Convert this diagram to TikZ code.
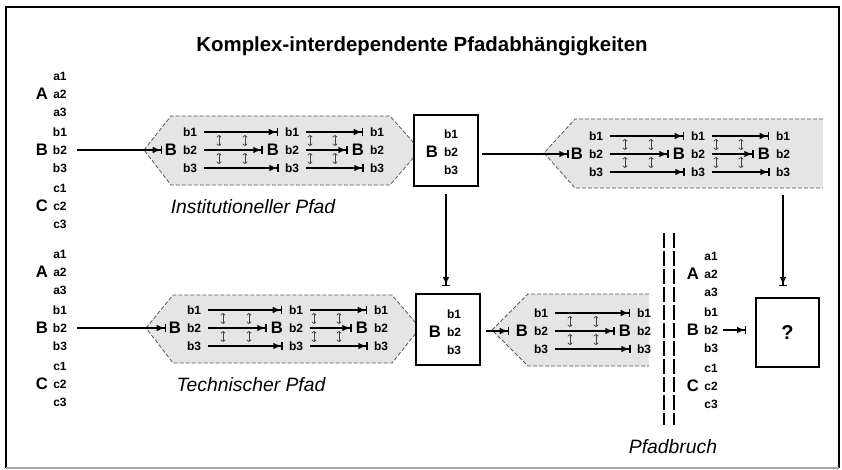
\documentclass[tikz,border=0pt]{standalone}
\usepackage{fontspec}
\setmainfont{Liberation Sans}
\usetikzlibrary{arrows.meta}

\tikzset{
  titel/.style={font=\bfseries\fontsize{15.3}{18}\selectfont},
  gross/.style={inner sep=0pt, font=\bfseries\fontsize{12.5}{13}\selectfont},
  klein/.style={inner sep=0pt, font=\bfseries\fontsize{9}{10}\selectfont},
  pfadname/.style={inner sep=0pt, font=\itshape\fontsize{14.5}{16}\selectfont},
  pfeil/.style={line width=1.2pt, -{Latex[length=6pt,width=5pt]Bar[width=6pt,line width=1pt]}},
  wechsel/.style={line width=0.55pt, draw=black!75, {To[length=1.8pt,width=3.6pt]}-{To[length=1.8pt,width=3.6pt]}},
  pfadflaeche/.style={fill=black!10},
  pfadrand/.style={draw=black!65, dash pattern=on 3pt off 1.5pt, line width=0.6pt},
  kasten/.style={draw, fill=white, line width=1.4pt, minimum width=48pt, minimum height=53.25pt},
  bruch/.style={line width=1.5pt, dash pattern=on 11pt off 2.5pt}
}

\newcommand{\gruppe}[5]{%
  \node[gross] (#1) at (#4,#5) {#2};
  \foreach \i/\dy in {1/-18,2/0,3/18}
    \node[klein] (#1-\i) at (#4+18,#5+\dy) {#3\i};
}
\newcommand{\abc}[3]{%
  \gruppe{#1a}{A}{a}{#2}{#3-56}
  \gruppe{#1b}{B}{b}{#2}{#3}
  \gruppe{#1c}{C}{c}{#2}{#3+56}
}
\newcommand{\spalte}[3]{%
  \node[gross] (#1) at (#2,#3) {B};
  \node[klein] (#1-1) at (#2+19,#3-18) {b1};
  \node[klein] (#1-2) at (#2+19,#3) {b2};
  \node[klein] (#1-3) at (#2+19,#3+18) {b3};
}
\newcommand{\glied}[4]{%
  \draw[pfeil, shorten <=5pt, shorten >=5pt] (#1-1) -- (#2-1);
  \draw[pfeil, shorten <=5pt, shorten >=3pt] (#1-2) -- (#2);
  \draw[pfeil, shorten <=5pt, shorten >=4.5pt] (#1-3) -- (#2-3);
  \foreach \dx in {#3,#4}{
    \draw[wechsel] ([shift={(\dx,-15)}]#1.center) -- ++(0,11);
    \draw[wechsel] ([shift={(\dx,3)}]#1.center) -- ++(0,11);
  }
}

\begin{document}
\begin{tikzpicture}[x=0.75pt, y=-0.75pt]
  \useasboundingbox (0,0) rectangle (842,470);
  \draw[line width=1.5pt] (6,468) -- (6,7) -- (839,7) -- (839,468);
  \draw[black!35, line width=1pt] (6,468) -- (839,468);

  \node[titel] (titel) at (422,46) {Komplex-interdependente Pfadabhängigkeiten};

  \filldraw[pfadflaeche, pfadrand] (144,150) -- (171,116) -- (390,116) -- (420,150) -- (390,185) -- (171,185) -- cycle;
  \filldraw[pfadflaeche, pfadrand] (146,328) -- (173,295) -- (392,295) -- (420,328) -- (392,363) -- (173,363) -- cycle;
  \fill[pfadflaeche] (544,153) -- (575,119) -- (823,119) -- (823,188) -- (575,188) -- cycle;
  \draw[pfadrand] (823,119) -- (575,119) -- (544,153) -- (575,188) -- (823,188);
  \fill[pfadflaeche] (492,330) -- (528,294) -- (649,294) -- (649,366) -- (528,366) -- cycle;
  \draw[pfadrand] (649,294) -- (528,294) -- (492,330) -- (528,366) -- (649,366);

  \draw[bruch] (664,233) -- (664,425);
  \draw[bruch] (674,233) -- (674,425);

  \abc{lo}{42}{150}
  \abc{lu}{42}{328}
  \abc{r}{693}{330}

  \spalte{io1}{171}{150}
  \spalte{io2}{273}{150}
  \spalte{io3}{358}{150}
  \glied{io1}{io2}{48}{74}
  \glied{io2}{io3}{37}{62}

  \spalte{tu1}{175}{328}
  \spalte{tu2}{277}{328}
  \spalte{tu3}{362}{328}
  \glied{tu1}{tu2}{48}{74}
  \glied{tu2}{tu3}{37}{62}

  \node[kasten] (insbox) at (446,150.5) {};
  \spalte{ins}{432}{152}
  \node[kasten] (techbox) at (448,329.5) {};
  \spalte{tech}{435}{332}

  \spalte{io4}{577}{154}
  \spalte{io5}{679}{154}
  \spalte{io6}{764}{154}
  \glied{io4}{io5}{48}{74}
  \glied{io5}{io6}{37}{62}

  \spalte{tm1}{522}{331}
  \spalte{tm2}{625}{331}
  \glied{tm1}{tm2}{48}{74}

  \node[kasten, minimum width=47.25pt, minimum height=51.75pt, font=\bfseries\fontsize{15}{17}\selectfont] (frage) at (787.5,332.5) {?};
  \coordinate (pfadende) at (783,188);

  \draw[pfeil, shorten <=7pt, shorten >=2pt] (lob-2) -- (io1);
  \draw[pfeil, shorten <=7pt, shorten >=2pt] (lub-2) -- (tu1);
  \draw[pfeil, shorten <=2pt, shorten >=1.5pt] (insbox.east |- io4) -- (io4);
  \draw[pfeil, shorten <=3.5pt, shorten >=5pt] (techbox.east |- tm1) -- (tm1);
  \draw[pfeil, shorten <=3.5pt, shorten >=6.5pt] (rb-2) -- (rb-2 -| frage.west);
  \draw[pfeil, shorten <=5pt, shorten >=5pt] (insbox.south) -- (insbox.south |- techbox.north);
  \draw[pfeil, shorten <=5pt, shorten >=8pt] (pfadende) -- (pfadende |- frage.north);

  \node[pfadname] (instname) at (253,207) {Institutioneller Pfad};
  \node[pfadname] (technname) at (251,385) {Technischer Pfad};
  \node[pfadname] (bruchname) at (673,447) {Pfadbruch};
\end{tikzpicture}
\end{document}
